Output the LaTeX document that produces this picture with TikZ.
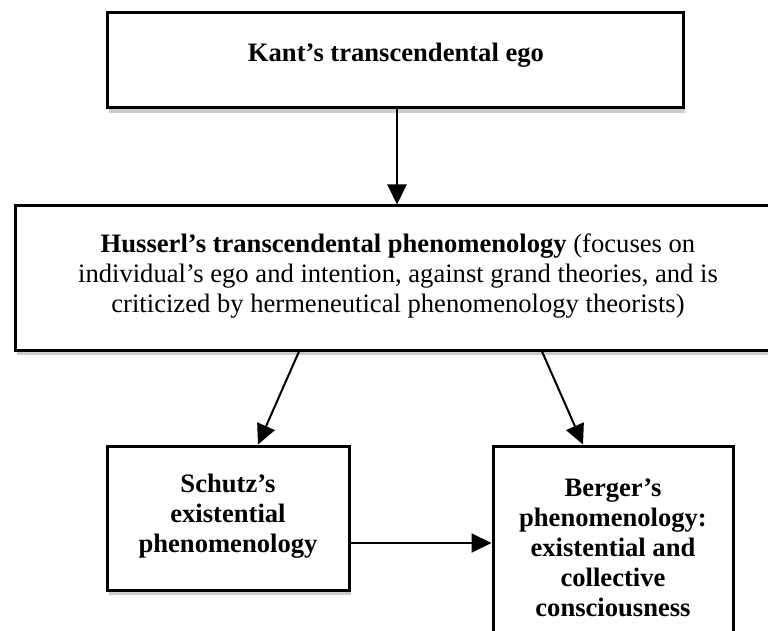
\documentclass[tikz,border=0pt]{standalone}
\usepackage{fontspec}
\setmainfont{Liberation Serif}
\usetikzlibrary{arrows.meta,shadows}
\begin{document}
\begin{tikzpicture}[x=1pt,y=-1pt,
  box/.style={draw=black,line width=3pt,fill=white,inner sep=0pt,
    drop shadow={shadow xshift=2pt,shadow yshift=-5pt,fill=black,opacity=0.2}},
  txt/.style={align=center,inner sep=0pt,font=\fontsize{26.6}{30}\selectfont},
  arr/.style={line width=2pt,-{Triangle[length=20pt,width=19pt]}}]
\useasboundingbox (0,0) rectangle (768,631);
\clip (0,0) rectangle (768,631);
\node[box,minimum width=576pt,minimum height=95pt] (kant) at (395,60.5) {};
\node[box,minimum width=775pt,minimum height=144pt] (husserl) at (402.5,278) {};
\node[box,minimum width=242pt,minimum height=144pt] (schutz) at (228,518) {};
\node[box,minimum width=240pt,minimum height=214pt] (berger) at (613,553) {};
\node[txt] (kantt) at (396,55) {\textbf{Kant’s transcendental ego}};
\node[txt] (husserlt) at (398,276) {\textbf{Husserl’s transcendental phenomenology} (focuses on\\individual’s ego and intention, against grand theories, and is\\criticized by hermeneutical phenomenology theorists)};
\node[txt] (schutzt) at (228,516) {\textbf{Schutz’s}\\\textbf{existential}\\\textbf{phenomenology}};
\node[txt] (bergert) at (613,548) {\textbf{Berger’s}\\\textbf{phenomenology:}\\\textbf{existential and}\\\textbf{collective}\\\textbf{consciousness}};
\draw[arr] ([xshift=2pt]kant.south) -- ([xshift=2pt]kant.south |- husserl.north);
\draw[arr] ([xshift=-103.5pt]husserl.south) -- ([xshift=30pt]schutz.north);
\draw[arr] ([xshift=139.5pt]husserl.south) -- ([xshift=-30pt]berger.north);
\draw[arr] ([yshift=-25pt]schutz.east) -- ([yshift=-25pt]schutz.east -| berger.west);
\end{tikzpicture}
\end{document}
